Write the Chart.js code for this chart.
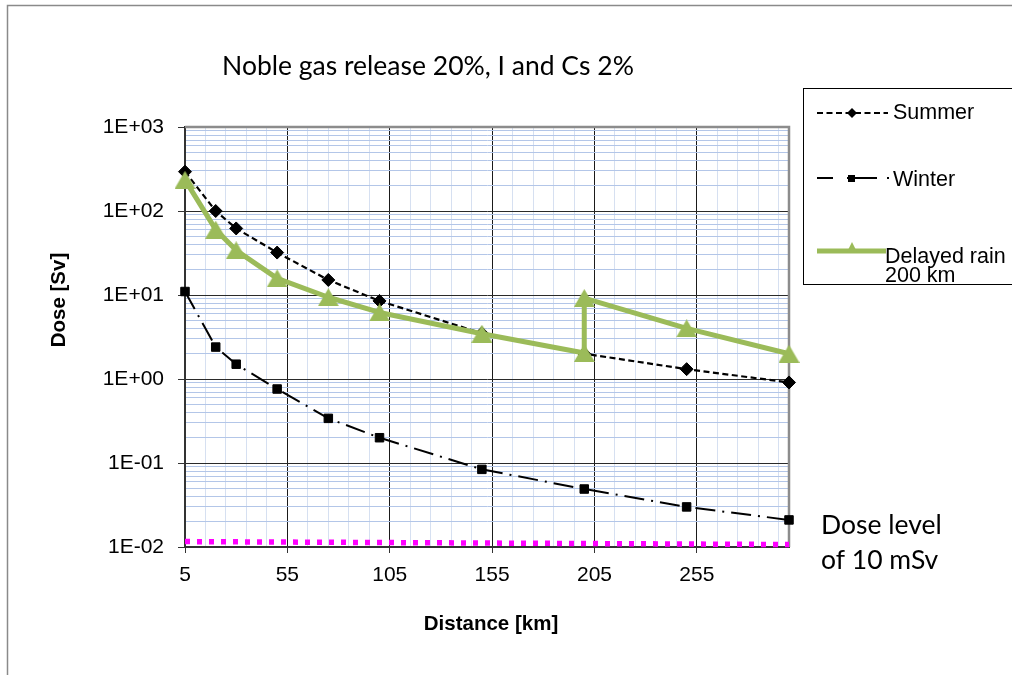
<!DOCTYPE html>
<html>
<head>
<meta charset="utf-8">
<script src="https://cdn.jsdelivr.net/npm/chart.js@4.4.1/dist/chart.umd.min.js"></script>
<style>
html,body{margin:0;padding:0;background:#fff;overflow:hidden}
canvas{display:block}
</style>
</head>
<body>
<canvas id="c" width="1012" height="675"></canvas>
<script>
// ---------------- data ----------------
const distanceKm = [5, 20, 30, 50, 75, 100, 150, 200, 250, 300];
const summerSv   = [294, 100, 62, 32, 15.1, 8.5, 3.5, 2.0, 1.31, 0.91];
const winterSv   = [11, 2.4, 1.5, 0.76, 0.34, 0.2, 0.084, 0.049, 0.03, 0.021];
const rainKm     = [5, 20, 30, 50, 75, 100, 150, 200, 200, 250, 300];
const rainSv     = [235, 60, 34, 15.8, 9.4, 6.2, 3.46, 2.04, 9.2, 4.0, 2.0];
const doseLevelKm = [5, 300];
const doseLevelSv = [0.0116, 0.0107];

const xTickValues = [5, 55, 105, 155, 205, 255];
const xTickLabels = ['5', '55', '105', '155', '205', '255'];
const yTickValues = [0.01, 0.1, 1, 10, 100, 1000];
const yTickLabels = ['1E-02', '1E-01', '1E+00', '1E+01', '1E+02', '1E+03'];

const seriesNames = ['Summer', 'Winter', 'Delayed rain', '200 km'];
const titleText = 'Noble gas release 20%, I and Cs 2%';
const xTitle = 'Distance [km]';
const yTitle = 'Dose [Sv]';
const noteLines = ['Dose level', 'of 10 mSv'];

// ---------------- styles ----------------
const GREEN = '#9bbb59';
const MAGENTA = '#ff00ff';
const AXIS_FONT = '"Liberation Sans", Arial, sans-serif';
const TITLE_FONT = 'Lato, "Open Sans", sans-serif';

function triImg(w, h, color) {
  const c = document.createElement('canvas');
  c.width = w; c.height = h;
  const g = c.getContext('2d');
  g.fillStyle = color;
  g.beginPath();
  g.moveTo(w / 2, 0); g.lineTo(w, h); g.lineTo(0, h); g.closePath();
  g.fill();
  return c;
}
const bigTri = triImg(21, 18, GREEN);

function pts(xs, ys) { return xs.map((x, i) => ({ x: x, y: ys[i] })); }

const xMinor = [];
for (let v = xTickValues[0] + 10; v < 300; v += 10) if (!xTickValues.includes(v)) xMinor.push(v);
const yMinor = [];
for (let k = 0; k < yTickValues.length - 1; k++) for (let m = 2; m <= 9; m++) yMinor.push(m * yTickValues[k]);

function isMajorX(v) { return xTickValues.some(t => Math.abs(t - v) < 1e-9); }
function isMajorY(v) { return yTickValues.some(t => Math.abs(t - v) / t < 1e-6); }

// ---------------- decorations plugin ----------------
const decor = {
  id: 'decor',
  beforeDraw(chart) {
    const ctx = chart.ctx;
    ctx.save();
    ctx.fillStyle = '#fff';
    ctx.fillRect(0, 0, chart.width, chart.height);
    ctx.strokeStyle = '#8a8a8a';
    ctx.lineWidth = 1.5;
    ctx.strokeRect(7.5, 5.5, 1200, 900);
    ctx.restore();
  },
  beforeDatasetsDraw(chart) {
    const ctx = chart.ctx, a = chart.chartArea;
    ctx.save();
    ctx.strokeStyle = '#8c8c8c';
    ctx.lineWidth = 2.5;
    ctx.beginPath();
    ctx.moveTo(a.left, a.top);
    ctx.lineTo(a.right, a.top);
    ctx.lineTo(a.right, a.bottom);
    ctx.stroke();
    ctx.restore();
  },
  afterDraw(chart) {
    const ctx = chart.ctx;
    ctx.save();
    // title
    ctx.fillStyle = '#000';
    ctx.font = '26.5px ' + TITLE_FONT;
    ctx.textAlign = 'center';
    ctx.textBaseline = 'alphabetic';
    ctx.fillText(titleText, 428, 75);
    // note at right
    ctx.textAlign = 'left';
    ctx.fillText(noteLines[0], 821, 534);
    ctx.fillText(noteLines[1], 821, 569);
    // axis titles
    ctx.font = 'bold 20.5px ' + AXIS_FONT;
    ctx.textAlign = 'center';
    ctx.textBaseline = 'middle';
    ctx.fillText(xTitle, 491, 624);
    ctx.save();
    ctx.translate(59, 300);
    ctx.rotate(-Math.PI / 2);
    ctx.fillText(yTitle, 0, 0);
    ctx.restore();

    // legend box
    ctx.strokeStyle = '#000';
    ctx.lineWidth = 1;
    ctx.strokeRect(803.5, 88.5, 400, 196);
    ctx.font = '21.5px ' + AXIS_FONT;
    ctx.textAlign = 'left';
    ctx.textBaseline = 'alphabetic';
    ctx.fillStyle = '#000';

    // Summer
    ctx.strokeStyle = '#000';
    ctx.lineWidth = 2;
    ctx.setLineDash([6, 3.5]);
    ctx.beginPath(); ctx.moveTo(817, 113); ctx.lineTo(888, 113); ctx.stroke();
    ctx.setLineDash([]);
    ctx.beginPath();
    ctx.moveTo(852, 108); ctx.lineTo(857, 113); ctx.lineTo(852, 118); ctx.lineTo(847, 113); ctx.closePath();
    ctx.fill();
    ctx.fillText(seriesNames[0], 893, 119);

    // Winter
    ctx.lineWidth = 2;
    ctx.beginPath(); ctx.moveTo(817, 178); ctx.lineTo(833, 178); ctx.stroke();
    ctx.beginPath(); ctx.moveTo(847, 178); ctx.lineTo(877, 178); ctx.stroke();
    ctx.fillRect(887, 177, 2, 2);
    ctx.fillRect(848, 175, 7, 7);
    ctx.fillText(seriesNames[1], 893, 186);

    // Delayed rain
    ctx.strokeStyle = GREEN;
    ctx.lineWidth = 5;
    ctx.beginPath(); ctx.moveTo(817, 251); ctx.lineTo(886, 251); ctx.stroke();
    ctx.fillStyle = GREEN;
    ctx.beginPath(); ctx.moveTo(852, 242); ctx.lineTo(857.5, 253); ctx.lineTo(846.5, 253); ctx.closePath(); ctx.fill();
    ctx.fillStyle = '#000';
    ctx.fillText(seriesNames[2], 885, 263);
    ctx.fillText(seriesNames[3], 885, 282);
    ctx.restore();
  }
};

Chart.defaults.font.family = AXIS_FONT;
Chart.defaults.font.size = 21;
Chart.defaults.color = '#000';

new Chart(document.getElementById('c'), {
  type: 'line',
  data: {
    datasets: [
      {
        label: 'Dose level of 10 mSv',
        data: pts(doseLevelKm, doseLevelSv),
        borderColor: MAGENTA,
        borderWidth: 5.5,
        borderDash: [5, 7],
        borderCapStyle: 'butt',
        pointRadius: 0,
        order: 0,
        clip: false
      },
      {
        label: 'Delayed rain 200 km',
        data: pts(rainKm, rainSv),
        borderColor: GREEN,
        backgroundColor: GREEN,
        borderWidth: 5,
        borderJoinStyle: 'round',
        pointStyle: bigTri,
        pointRadius: 10,
        order: 1,
        clip: false
      },
      {
        label: 'Summer',
        data: pts(distanceKm, summerSv),
        borderColor: '#000',
        backgroundColor: '#000',
        borderWidth: 2.2,
        borderDash: [6, 3.5],
        pointStyle: 'rectRot',
        pointRadius: 6.5,
        pointBorderWidth: 1,
        order: 2,
        clip: false
      },
      {
        label: 'Winter',
        data: pts(distanceKm, winterSv),
        borderColor: '#000',
        backgroundColor: '#000',
        borderWidth: 2,
        borderDash: [20, 7, 2, 7],
        pointStyle: 'rect',
        pointRadius: 6,
        pointBorderWidth: 1,
        order: 3,
        clip: false
      }
    ]
  },
  options: {
    responsive: false,
    animation: false,
    devicePixelRatio: 1,
    events: [],
    layout: { padding: { left: 0, top: 127, right: 223, bottom: 68 } },
    plugins: { legend: { display: false }, title: { display: false }, tooltip: { enabled: false } },
    elements: { line: { tension: 0 } },
    scales: {
      x: {
        type: 'linear',
        min: 5,
        max: 300,
        afterBuildTicks(scale) {
          const vals = xTickValues.concat(xMinor).sort((a, b) => a - b);
          scale.ticks = vals.map(v => ({ value: v }));
        },
        afterFit(scale) { scale.height = 60; },
        ticks: {
          autoSkip: false,
          maxRotation: 0,
          padding: 10,
          font: { size: 21 },
          color: '#000',
          callback(v) {
            const i = xTickValues.findIndex(t => Math.abs(t - v) < 1e-9);
            return i >= 0 ? xTickLabels[i] : '';
          }
        },
        grid: {
          color(c) { return c.tick && isMajorX(c.tick.value) ? '#1a1a1a' : '#d6e0f1'; },
          tickColor(c) { return c.tick && isMajorX(c.tick.value) ? '#333' : 'rgba(0,0,0,0)'; },
          lineWidth: 1,
          tickLength: 6
        },
        border: { color: '#333', width: 2 }
      },
      y: {
        type: 'logarithmic',
        min: 0.01,
        max: 1000,
        afterBuildTicks(scale) {
          const vals = yTickValues.concat(yMinor).sort((a, b) => a - b);
          scale.ticks = vals.map(v => ({ value: v }));
        },
        afterFit(scale) { scale.width = 185; },
        ticks: {
          autoSkip: false,
          padding: 14,
          font: { size: 21 },
          color: '#000',
          callback(v) {
            const i = yTickValues.findIndex(t => Math.abs(t - v) / t < 1e-6);
            return i >= 0 ? yTickLabels[i] : '';
          }
        },
        grid: {
          color(c) { return c.tick && isMajorY(c.tick.value) ? '#2a2a2a' : '#b3c6e8'; },
          tickColor(c) { return c.tick && isMajorY(c.tick.value) ? '#333' : 'rgba(0,0,0,0)'; },
          lineWidth: 1,
          tickLength: 7
        },
        border: { color: '#333', width: 2 }
      }
    }
  },
  plugins: [decor]
});
</script>
</body>
</html>
